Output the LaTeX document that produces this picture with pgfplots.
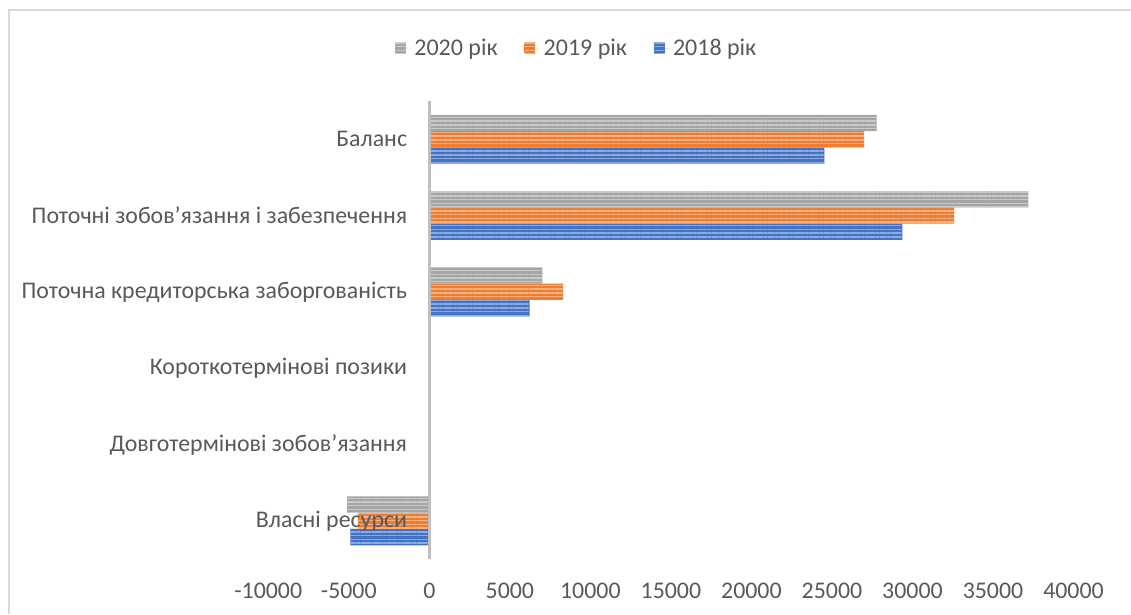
\documentclass[border=0pt]{standalone}
\usepackage{fontspec}
\setmainfont{Carlito}
\usepackage{pgfplots}
\pgfplotsset{compat=1.18}
\usepackage{pgfplotstable}
\usetikzlibrary{patterns.meta}

\definecolor{txt}{HTML}{595959}
\definecolor{axln}{HTML}{BFBFBF}
\definecolor{framec}{HTML}{D9D9D9}
\definecolor{c18}{HTML}{4472C4}
\definecolor{c18l}{HTML}{8FAADC}
\definecolor{c19}{HTML}{ED7D31}
\definecolor{c19l}{HTML}{F4B183}
\definecolor{c20}{HTML}{A5A5A5}
\definecolor{c20l}{HTML}{CACACA}

% y: 0 = Власні ресурси ... 5 = Баланс
\pgfplotstableread{
y v2018 v2019 v2020
0 -4900 -4430 -5110
1 0 0 0
2 0 0 0
3 6230 8300 7020
4 29380 32580 37190
5 24530 27000 27780
}\datatable

\begin{document}
\begin{tikzpicture}[x=1pt,y=1pt]
\path[use as bounding box] (-201.2,-41.25) rectangle (647,419.25);
\draw[framec, line width=1.2pt] (-194.5,-41.25) -- (-194.5,411.75) -- (647,411.75);
\begin{axis}[
  at={(0,0)}, anchor=south west,
  scale only axis, width=603.9pt, height=343.5pt,
  xmin=-10000, xmax=40000, ymin=-0.5, ymax=5.5,
  xbar=0pt, bar width=12.2pt,
  axis line style={draw=none}, tick style={draw=none},
  major tick length=0pt,
  axis on top,
  xtick={-10000,-5000,...,40000},
  xticklabels={-10000,-5000,0,5000,10000,15000,20000,25000,30000,35000,40000},
  ytick={0,1,2,3,4,5},
  yticklabels={Власні ресурси,Довготермінові зобов’язання,Короткотермінові позики,Поточна кредиторська заборгованість,Поточні зобов’язання і забезпечення,Баланс},
  xticklabel style={font=\fontsize{17.9}{21}\selectfont, text=txt, anchor=north, inner sep=0pt, yshift=-18pt},
  yticklabel style={font=\fontsize{17.9}{21}\selectfont, text=txt, anchor=east, inner sep=0pt, xshift=104.3pt},
  legend style={at={(0.3834,1.1157)}, anchor=center, draw=none, fill=none,
    font=\fontsize{18}{21}\selectfont, text=txt,
    /tikz/every even column/.append style={column sep=18pt}},
  legend columns=-1,
  reverse legend,
  legend image code/.code={\path[#1] (0pt,-4.1pt) rectangle (8.25pt,4.1pt);
    \path (8.25pt,0pt) -- (12.5pt,0pt);},
]
\addplot[fill=c18, draw=none, postaction={pattern={Lines[angle=0,distance=2.8pt,line width=1.1pt]}, pattern color=c18l}]
  table[x=v2018,y=y]{\datatable};
\addplot[fill=c19, draw=none, postaction={pattern={Lines[angle=0,distance=2.8pt,line width=1.1pt]}, pattern color=c19l}]
  table[x=v2019,y=y]{\datatable};
\addplot[fill=c20, draw=none, postaction={pattern={Lines[angle=0,distance=2.8pt,line width=1.1pt]}, pattern color=c20l}]
  table[x=v2020,y=y]{\datatable};
\legend{2018 рік,2019 рік,2020 рік}
\draw[axln, line width=1.8pt] (axis cs:0,-0.5) -- (axis cs:0,5.5);
\end{axis}
\end{tikzpicture}
\end{document}
